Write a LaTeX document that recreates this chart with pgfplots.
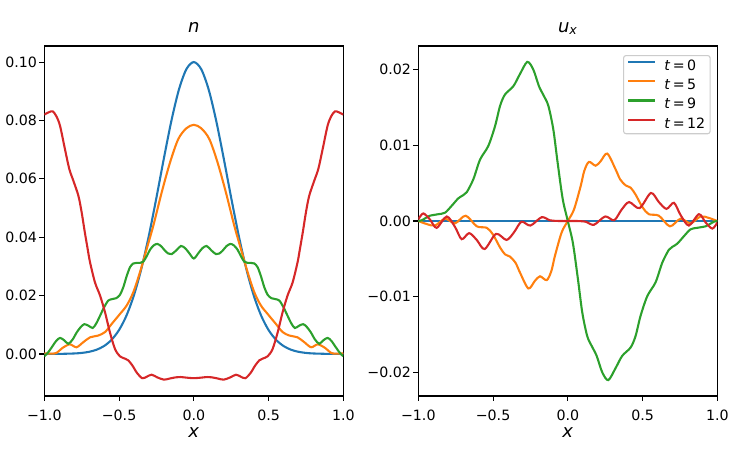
\documentclass[border=0pt]{standalone}
\usepackage{fontspec}
\setmainfont{DejaVu Sans}
\usepackage{pgfplots}
\pgfplotsset{compat=1.18}
\definecolor{tabblue}{HTML}{1F77B4}
\definecolor{taborange}{HTML}{FF7F0E}
\definecolor{tabgreen}{HTML}{2CA02C}
\definecolor{tabred}{HTML}{D62728}
\definecolor{legframe}{HTML}{CCCCCC}
\pgfplotsset{
  mystyle/.style={
    width=299pt, height=350pt, scale only axis,
    xmin=-1, xmax=1,
    tick align=outside, tick pos=left,
    major tick length=4.9pt,
    every tick/.style={black, line width=1.1pt},
    axis line style={line width=1.1pt},
    xtick={-1,-0.5,0,0.5,1},
    xticklabels={−1.0,−0.5,0.0,0.5,1.0},
    scaled ticks=false,
    ticklabel style={font=\fontsize{14.2}{16}\selectfont},
    xticklabel style={anchor=base, inner sep=0pt, yshift=-19.7pt},
    yticklabel style={anchor=east, inner sep=0pt, xshift=-2.2pt},
    title style={at={(axis description cs:0.5,1)}, anchor=base, yshift=7.7pt, font=\fontsize{18}{21}\selectfont},
    xlabel={\textit{x}},
    xlabel style={at={(axis description cs:0.5,0)}, anchor=base, yshift=-41.3pt, font=\fontsize{18}{21}\selectfont},
    every axis plot/.append style={line width=2.08pt, smooth, no markers},
  }
}
\begin{document}
\begin{tikzpicture}
\path[use as bounding box] (0,0) rectangle (747pt,467pt);
\begin{axis}[mystyle, at={(44.3pt,71pt)}, anchor=south west,
  ymin=-0.0144, ymax=0.1055,
  ytick={0,0.02,0.04,0.06,0.08,0.1},
  yticklabels={0.00,0.02,0.04,0.06,0.08,0.10},
  title={\textit{n}}]
% t = 0
\addplot[tabblue] coordinates {
(-1,0) (-0.9,0.00003) (-0.8,0.00017) (-0.75,0.00036) (-0.7,0.00074) (-0.65,0.00146) (-0.6,0.00273) (-0.55,0.00486) (-0.5,0.00821) (-0.45,0.01320) (-0.4,0.02019) (-0.35,0.02938) (-0.3,0.04066) (-0.25,0.05353) (-0.2,0.06703) (-0.15,0.07985) (-0.1,0.09048) (-0.05,0.09753) (0,0.1)
(0.05,0.09753) (0.1,0.09048) (0.15,0.07985) (0.2,0.06703) (0.25,0.05353) (0.3,0.04066) (0.35,0.02938) (0.4,0.02019) (0.45,0.01320) (0.5,0.00821) (0.55,0.00486) (0.6,0.00273) (0.65,0.00146) (0.7,0.00074) (0.75,0.00036) (0.8,0.00017) (0.9,0.00003) (1,0)
};
% t = 5
\addplot[taborange] coordinates {
(-1.0,0.0002) (-0.95,0.0001) (-0.917,0.0004) (-0.88,0.0020) (-0.83,0.0033) (-0.785,0.0023) (-0.74,0.0040) (-0.694,0.0057) (-0.64,0.0063) (-0.594,0.0075) (-0.549,0.0103) (-0.494,0.0137) (-0.449,0.0166) (-0.405,0.0211) (-0.36,0.0280) (-0.315,0.0360) (-0.271,0.0439) (-0.215,0.0553) (-0.159,0.0656) (-0.104,0.0736) (-0.05,0.0773) (0,0.0785)
(0.05,0.0773) (0.104,0.0736) (0.159,0.0656) (0.215,0.0553) (0.271,0.0439) (0.315,0.0360) (0.36,0.0280) (0.405,0.0211) (0.449,0.0166) (0.494,0.0137) (0.549,0.0103) (0.594,0.0075) (0.64,0.0063) (0.694,0.0057) (0.74,0.0040) (0.785,0.0023) (0.83,0.0033) (0.88,0.0020) (0.917,0.0004) (0.95,0.0001) (1.0,0.0002)
};
% t = 9
\addplot[tabgreen] coordinates {
(-1.0,-0.0008) (-0.975,0.0005) (-0.95,0.0023) (-0.92,0.0045) (-0.895,0.0055) (-0.867,0.0047) (-0.839,0.0035) (-0.81,0.0050) (-0.783,0.0074) (-0.755,0.0093) (-0.732,0.0102) (-0.705,0.0097) (-0.676,0.0089) (-0.652,0.0105) (-0.627,0.0131) (-0.60,0.0160) (-0.572,0.0183) (-0.545,0.0188) (-0.52,0.0191) (-0.495,0.0202) (-0.472,0.0228) (-0.45,0.0265) (-0.427,0.0297) (-0.405,0.0310) (-0.382,0.0312) (-0.36,0.0312) (-0.338,0.0316) (-0.315,0.0335) (-0.293,0.0357) (-0.268,0.0372) (-0.244,0.0377) (-0.218,0.0369) (-0.193,0.0354) (-0.17,0.0344) (-0.148,0.0342) (-0.117,0.0355) (-0.086,0.0370) (-0.057,0.0362) (-0.03,0.0345) (0,0.0327)
(0.03,0.0345) (0.057,0.0362) (0.086,0.0370) (0.117,0.0355) (0.148,0.0342) (0.17,0.0344) (0.193,0.0354) (0.218,0.0369) (0.244,0.0377) (0.268,0.0372) (0.293,0.0357) (0.315,0.0335) (0.338,0.0316) (0.36,0.0312) (0.382,0.0312) (0.405,0.0310) (0.427,0.0297) (0.45,0.0265) (0.472,0.0228) (0.495,0.0202) (0.52,0.0191) (0.545,0.0188) (0.572,0.0183) (0.60,0.0160) (0.627,0.0131) (0.652,0.0105) (0.676,0.0089) (0.705,0.0097) (0.732,0.0102) (0.755,0.0093) (0.783,0.0074) (0.81,0.0050) (0.839,0.0035) (0.867,0.0047) (0.895,0.0055) (0.92,0.0045) (0.95,0.0023) (0.975,0.0005) (1.0,-0.0008)
};
% t = 12
\addplot[tabred] coordinates {
(-1.0,0.0820) (-0.97,0.0828) (-0.944,0.0831) (-0.92,0.0815) (-0.895,0.0782) (-0.862,0.0702) (-0.833,0.0634) (-0.806,0.0594) (-0.772,0.0542) (-0.75,0.0485) (-0.73,0.0420) (-0.71,0.0360) (-0.694,0.0314) (-0.661,0.0245) (-0.627,0.0200) (-0.594,0.0143) (-0.561,0.0074) (-0.527,0.0017) (-0.494,-0.0008) (-0.46,-0.0016) (-0.438,-0.0022) (-0.41,-0.0040) (-0.38,-0.0065) (-0.345,-0.0083) (-0.315,-0.0078) (-0.282,-0.0071) (-0.245,-0.0080) (-0.2,-0.0088) (-0.16,-0.0084) (-0.12,-0.0080) (-0.09,-0.0079) (-0.05,-0.0081) (0,-0.0083)
(0.05,-0.0081) (0.09,-0.0079) (0.12,-0.0080) (0.16,-0.0084) (0.2,-0.0088) (0.245,-0.0080) (0.282,-0.0071) (0.315,-0.0078) (0.345,-0.0083) (0.38,-0.0065) (0.41,-0.0040) (0.438,-0.0022) (0.46,-0.0016) (0.494,-0.0008) (0.527,0.0017) (0.561,0.0074) (0.594,0.0143) (0.627,0.0200) (0.661,0.0245) (0.694,0.0314) (0.71,0.0360) (0.73,0.0420) (0.75,0.0485) (0.772,0.0542) (0.806,0.0594) (0.833,0.0634) (0.862,0.0702) (0.895,0.0782) (0.92,0.0815) (0.944,0.0831) (0.97,0.0828) (1.0,0.0820)
};
\end{axis}
\begin{axis}[mystyle, at={(418.3pt,71pt)}, anchor=south west,
  ymin=-0.0231, ymax=0.0231,
  ytick={-0.02,-0.01,0,0.01,0.02},
  yticklabels={−0.02,−0.01,0.00,0.01,0.02},
  title={\textit{u}\textsubscript{\textit{x}}},
  legend cell align=left,
  legend image code/.code={\draw[#1] (0pt,3.8pt) -- (27.3pt,3.8pt);},
  legend style={at={(rel axis cs:1,1)}, anchor=north east, xshift=-6.6pt, yshift=-9pt,
    draw=legframe, line width=1.1pt, rounded corners=2.5pt, fill=white,
    font=\fontsize{14.2}{16}\selectfont,
    inner xsep=3.5pt, inner ysep=2.5pt, row sep=4.4pt,
    nodes={inner sep=1.5pt},
    /tikz/every odd column/.append style={column sep=6.5pt}},
  ]
\addplot[tabblue] coordinates {(-1,0) (0,0) (1,0)};
\addlegendentry{\textit{t}\,=\,0}
\addplot[taborange] coordinates {
(-1,0) (-0.944,-0.0004) (-0.888,-0.0006) (-0.821,0.0003) (-0.754,-0.0003) (-0.683,0.0007) (-0.609,-0.0007) (-0.542,-0.0009) (-0.5,-0.0018) (-0.453,-0.0035) (-0.42,-0.0044) (-0.387,-0.0047) (-0.35,-0.0055) (-0.32,-0.0068) (-0.264,-0.0089) (-0.22,-0.0079) (-0.186,-0.0073) (-0.141,-0.0078) (-0.11,-0.0066) (-0.086,-0.0046) (-0.041,-0.0015) (0,0)
(0.041,0.0015) (0.086,0.0046) (0.11,0.0066) (0.141,0.0078) (0.186,0.0073) (0.22,0.0079) (0.264,0.0089) (0.32,0.0068) (0.35,0.0055) (0.387,0.0047) (0.42,0.0044) (0.453,0.0035) (0.5,0.0018) (0.542,0.0009) (0.609,0.0007) (0.683,-0.0007) (0.754,0.0003) (0.821,-0.0003) (0.888,0.0006) (0.944,0.0004) (1,0)
};
\addlegendentry{\textit{t}\,=\,5}
\addplot[tabgreen] coordinates {
(-1,0) (-0.977,0.0001) (-0.95,0.0004) (-0.922,0.0007) (-0.866,0.0009) (-0.821,0.0011) (-0.777,0.0020) (-0.732,0.0030) (-0.7,0.0034) (-0.676,0.0038) (-0.632,0.0055) (-0.587,0.0081) (-0.532,0.0099) (-0.487,0.0125) (-0.453,0.0152) (-0.42,0.0167) (-0.364,0.0178) (-0.32,0.0194) (-0.271,0.0210) (-0.231,0.0200) (-0.193,0.0178) (-0.16,0.0165) (-0.13,0.0152) (-0.097,0.0121) (-0.068,0.0077) (-0.034,0.0029) (0,0)
(0.034,-0.0029) (0.068,-0.0077) (0.097,-0.0121) (0.13,-0.0152) (0.16,-0.0165) (0.193,-0.0178) (0.231,-0.0200) (0.271,-0.0210) (0.32,-0.0194) (0.364,-0.0178) (0.42,-0.0167) (0.453,-0.0152) (0.487,-0.0125) (0.532,-0.0099) (0.587,-0.0081) (0.632,-0.0055) (0.676,-0.0038) (0.7,-0.0034) (0.732,-0.0030) (0.777,-0.0020) (0.821,-0.0011) (0.866,-0.0009) (0.922,-0.0007) (0.95,-0.0004) (0.977,-0.0001) (1,0)
};
\addlegendentry{\textit{t}\,=\,9}
\addplot[tabred] coordinates {
(-1,0.0002) (-0.967,0.0010) (-0.922,0.0002) (-0.877,-0.0009) (-0.81,0.0006) (-0.754,-0.0008) (-0.71,-0.0024) (-0.66,-0.0016) (-0.609,-0.0025) (-0.556,-0.0037) (-0.48,-0.0017) (-0.41,-0.0025) (-0.36,-0.0015) (-0.31,-0.0001) (-0.25,-0.0006) (-0.175,0.0005) (-0.12,0.0001) (-0.06,0.0) (0,0)
(0.06,0.0) (0.12,-0.0001) (0.175,-0.0005) (0.25,0.0006) (0.31,0.0001) (0.36,0.0015) (0.41,0.0025) (0.48,0.0017) (0.556,0.0037) (0.609,0.0025) (0.66,0.0016) (0.71,0.0024) (0.754,0.0008) (0.81,-0.0006) (0.877,0.0009) (0.922,-0.0002) (0.967,-0.0010) (1,-0.0002)
};
\addlegendentry{\textit{t}\,=\,12}
\end{axis}
\end{tikzpicture}
\end{document}
